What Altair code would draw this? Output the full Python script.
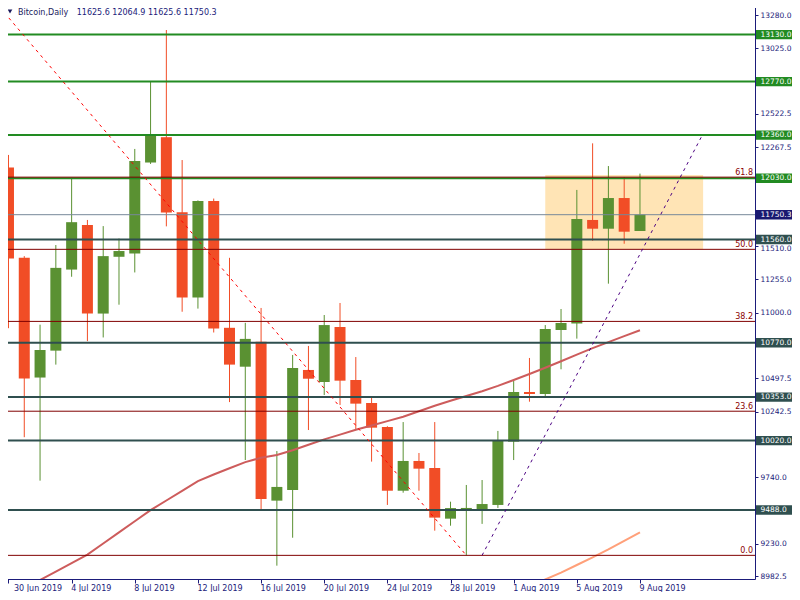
import altair as alt
import pandas as pd

DAY_MS = 86400000
FONT = "DejaVu Sans"
NAVY = "#1B1B7A"
GREEN = "#5A9132"
RED = "#F14D26"

# ---------------- data ----------------
dates = pd.date_range("2019-06-30", "2019-08-09", freq="D").strftime("%Y-%m-%d").tolist()

opens = [12112, 11420, 10503, 10709, 11330, 11671, 10993, 11428, 11453, 12150,
         12344, 11770, 11116, 11855, 10884, 10586, 10778, 9560, 9642, 10561,
         10469, 10890, 10484, 10308, 10124, 9636, 9864, 9810, 9422, 9496,
         9494, 9527, 10012, 10392, 10377, 10867, 10916, 11710, 11643, 11878, 11625.6]
highs = [12208, 11433, 10908, 11518, 12030, 11710, 11663, 11568, 12254, 12768,
         13165, 12169, 11860, 11874, 11420, 10922, 11036, 9940, 10676, 10745,
         10982, 11074, 10660, 10351, 10130, 10162, 9925, 10162, 9552, 9680,
         9718, 10094, 10479, 10653, 10905, 11028, 11940, 12297, 12123, 12039, 12064.9]
lows = [10881, 10046, 9713, 10602, 11275, 10782, 10810, 11061, 11308, 12139,
        11661, 11007, 11031, 10848, 10315, 9871, 9483, 9062, 9276, 10101,
        10369, 10293, 10106, 9859, 9527, 9621, 9636, 9330, 9368, 9141,
        9382, 9504, 9871, 10318, 10349, 10566, 10801, 11551, 11222, 11528, 11625.6]
closes = [11414, 10495, 10714, 11343, 11693, 10993, 11433, 11472, 12161, 12366,
          11767, 11116, 11855, 10878, 10602, 10799, 9573, 9665, 10576, 10494,
          10905, 10479, 10303, 10119, 9636, 9864, 9805, 9430, 9503, 9504,
          9534, 10019, 10392, 10377, 10875, 10921, 11717, 11643, 11878, 11620, 11750.3]

# moving averages
ma_slow = [8822, 8887, 8952, 9017, 9082, 9147, 9232, 9317, 9402, 9487,
           9561, 9635, 9710, 9760, 9808, 9855, 9889, 9910, 9946, 9988,
           10029, 10066, 10103, 10136, 10169, 10203, 10245, 10287, 10325, 10362,
           10398, 10439, 10484, 10530, 10578, 10628, 10679, 10728, 10774, 10820, 10865]
ma_long_dates = ["2019-07-31", "2019-08-01", "2019-08-02", "2019-08-03", "2019-08-04",
                 "2019-08-05", "2019-08-06", "2019-08-07", "2019-08-08", "2019-08-09"]
ma_long = [8776, 8837, 8898, 8956, 9009, 9067, 9125, 9186, 9251, 9317]

# horizontal levels
green_levels = [13130.0, 12770.0, 12360.0, 12030.0]
slate_levels = [11560.0, 10770.0, 10353.0, 10020.0, 9488.0]
last_price = 11750.3

fib_labels = ["0.0", "23.6", "38.2", "50.0", "61.8"]
fib_prices = [9141, 10245, 10933, 11485, 12038]

# drawn trend lines
fib_line_dates = ["2019-06-26", "2019-07-29"]
fib_line_prices = [13829, 9141]
trend_dates = ["2019-07-30", "2019-08-12T21:00:00Z"]
trend_prices = [9141, 12343]

# zone
zone_start, zone_end = "2019-08-03", "2019-08-13"
zone_top, zone_bottom = 12054, 11488

y_ticks = [13280.0, 13025.0, 12522.5, 12267.5, 11510.0, 11255.0, 11000.0,
           10497.5, 10242.5, 9740.0, 9230.0, 8982.5]
x_tick_dates = ["2019-06-30", "2019-07-04", "2019-07-08", "2019-07-12", "2019-07-16",
                "2019-07-20", "2019-07-24", "2019-07-28", "2019-08-01", "2019-08-05",
                "2019-08-09"]

title_name = "Bitcoin,Daily"
title_ohlc = "11625.6 12064.9 11625.6 11750.3"

# ---------------- scales ----------------
W, H = 753, 579
Y_MIN, Y_MAX = 8959.8, 13394.9


def ms(s):
    return int(pd.Timestamp(s, tz="UTC").value // 10**6)


x_start = ms("2019-06-30") - int(1.5 / 16 * DAY_MS)
x_end = x_start + int(W / 16 * DAY_MS)
x_scale = alt.Scale(type="utc", domain=[x_start, x_end])
y_scale = alt.Scale(domain=[Y_MIN, Y_MAX], nice=False, zero=False)

x_axis = alt.Axis(
    values=[ms(d) for d in x_tick_dates], format="%-d %b %Y", labelAlign="left",
    tickSize=4, labelPadding=1, grid=False, title=None, labelOverlap=False,
    labelFlush=False, labelFont=FONT, labelFontSize=8, labelColor=NAVY,
    domainColor=NAVY, tickColor=NAVY, labelBound=False,
    labelOffset={"condition": {"test": f"datum.value < {ms('2019-07-01')}", "value": 5},
                 "value": -1},
)
y_axis = alt.Axis(
    orient="right", values=y_ticks, format=".1f", tickSize=3, labelPadding=2,
    grid=False, title=None, labelOverlap=False, labelFlush=False, labelFont=FONT,
    labelFontSize=7.5, labelColor=NAVY, domainColor=NAVY, tickColor=NAVY,
    labelBound=False,
    labelOffset={"condition": {"test": "datum.value == 11510", "value": 2}, "value": 0},
)


def X(field="date"):
    return alt.X(f"{field}:T", scale=x_scale, axis=x_axis)


def Y(field):
    return alt.Y(f"{field}:Q", scale=y_scale, axis=y_axis)


df = pd.DataFrame({"date": dates, "open": opens, "high": highs, "low": lows,
                   "close": closes, "ma": ma_slow})
df_long = pd.DataFrame({"date": ma_long_dates, "ma": ma_long})

candle_color = alt.condition("datum.close >= datum.open", alt.value(GREEN), alt.value(RED))

zone = alt.Chart(pd.DataFrame({"s": [zone_start], "e": [zone_end],
                               "t": [zone_top], "b": [zone_bottom]})).mark_rect(
    color="#FFE4B5").encode(x=X("s"), x2="e:T", y=Y("t"), y2="b:Q")

wicks = alt.Chart(df).mark_rule(strokeWidth=1).encode(
    x=X(), y=Y("low"), y2="high:Q", color=candle_color)

bodies = alt.Chart(df).mark_bar(width=11).encode(
    x=X(), y=Y("open"), y2="close:Q", color=candle_color)

ma1 = alt.Chart(df).mark_line(clip=True, strokeWidth=2, color="#CD5C5C").encode(
    x=X(), y=Y("ma"))
ma2 = alt.Chart(df_long).mark_line(clip=True, strokeWidth=2, color="#FFA07A").encode(
    x=X(), y=Y("ma"))

lv_rows = ([{"p": p, "c": "#228B22", "w": 2} for p in green_levels]
           + [{"p": p, "c": "#2F4F4F", "w": 2} for p in slate_levels]
           + [{"p": last_price, "c": "#778899", "w": 1}]
           + [{"p": p, "c": "#800000", "w": 1} for p in fib_prices])
levels = alt.Chart(pd.DataFrame(lv_rows)).mark_rule().encode(
    y=Y("p"),
    color=alt.Color("c:N", scale=None),
    strokeWidth=alt.StrokeWidth("w:Q", scale=None))

fib_line = alt.Chart(pd.DataFrame({"date": fib_line_dates, "p": fib_line_prices})).mark_line(
    clip=True, strokeWidth=1, strokeDash=[3, 4], color="#FF0000").encode(
    x=X(), y=Y("p"))
trend = alt.Chart(pd.DataFrame({"date": trend_dates, "p": trend_prices})).mark_line(
    clip=True, strokeWidth=1, strokeDash=[3, 4], color="#4B0082").encode(
    x=X(), y=Y("p"))

fib_text = alt.Chart(pd.DataFrame({"p": fib_prices, "t": fib_labels})).mark_text(
    align="right", baseline="alphabetic", dy=-2, font=FONT, fontSize=8,
    color="#8B0000").encode(
    x=alt.value(751), y=Y("p"), text="t:N")

box_rows = ([{"p": p, "f": "#228B22"} for p in green_levels]
            + [{"p": p, "f": "#2F4F4F"} for p in slate_levels]
            + [{"p": last_price, "f": "#191970"}])
df_box = pd.DataFrame(box_rows)
df_box["label"] = df_box["p"].map(lambda v: f"{v:.1f}")
boxes = alt.Chart(df_box).transform_calculate(
    top="datum.p + 36", bot="datum.p - 36").mark_rect(clip=False).encode(
    x=alt.value(754), x2=alt.value(795),
    y=Y("top"), y2="bot:Q",
    color=alt.Color("f:N", scale=None))
box_text = alt.Chart(df_box).mark_text(
    align="left", baseline="middle", font=FONT, fontSize=7.5, color="white").encode(
    x=alt.value(758.5), y=Y("p"), text="label:N")

title_df = pd.DataFrame({"a": [title_name], "b": [title_ohlc]})
tri = alt.Chart(title_df).mark_point(shape="triangle-down", filled=True, size=22,
                                     color="#1B1B5E", opacity=1).encode(
    x=alt.value(8), y=alt.value(11.5))
t1 = alt.Chart(title_df).mark_text(align="left", baseline="middle", font=FONT,
                                   fontSize=8, color="#1B1B5E").encode(
    x=alt.value(16), y=alt.value(12.5), text="a:N")
t2 = alt.Chart(title_df).mark_text(align="left", baseline="middle", font=FONT,
                                   fontSize=8, color="#1B1B7A").encode(
    x=alt.value(74.7), y=alt.value(12.5), text="b:N")

chart = alt.layer(
    zone, wicks, bodies, ma1, ma2, levels, fib_line, trend,
    fib_text, boxes, box_text, tri, t1, t2
).properties(
    width=W, height=H,
    padding={"left": -6, "top": -8, "right": 37, "bottom": 13},
    autosize=alt.AutoSizeParams(type="none"),
    background="white",
).configure_view(stroke=None)

chart.save("out.html", embed_options={"renderer": "svg", "actions": False})
